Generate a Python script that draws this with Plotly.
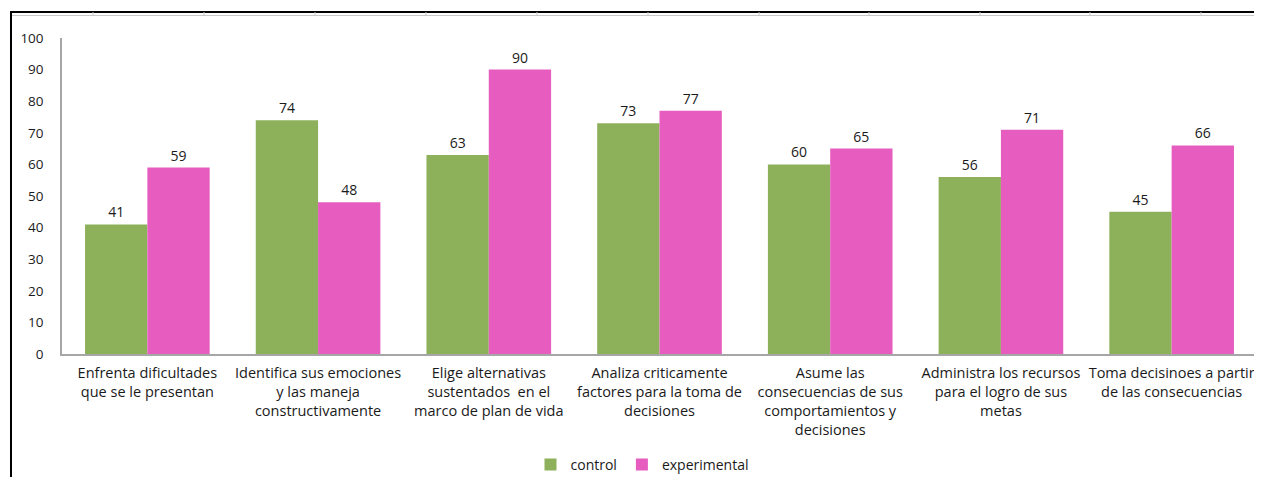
import plotly.graph_objects as go

categories = [
    "Enfrenta dificultades<br>que se le presentan",
    "Identifica sus emociones<br>y las maneja<br>constructivamente",
    "Elige alternativas<br>sustentados  en el<br>marco de plan de vida",
    "Analiza criticamente<br>factores para la toma de<br>decisiones",
    "Asume las<br>consecuencias de sus<br>comportamientos y<br>decisiones",
    "Administra los recursos<br>para el logro de sus<br>metas",
    "Toma decisinoes a partir<br>de las consecuencias",
]
control = [41, 74, 63, 73, 60, 56, 45]
experimental = [59, 48, 90, 77, 65, 71, 66]
y_ticks = [0, 10, 20, 30, 40, 50, 60, 70, 80, 90, 100]

GREEN = "#8DB15A"
PINK = "#E65CBF"
FONT = "Open Sans"
TXT = "#1a1a1a"

# page offset (default body margin) and figure size
OFF = 8
FW, FH = 1262 - OFF, 477 - OFF
# plot-area geometry in page pixels
L, R, T, B = 62, 1257, 38, 354
W, H = R - L, B - T
def px(x):
    return (x - L) / W
def py(y):
    return (B - y) / H

fig = go.Figure()
fig.add_trace(go.Bar(
    name="control", x=categories, y=control, marker_color=GREEN,
    marker_line_width=0, text=control, textposition="outside",
    textfont=dict(size=14, color=TXT, family=FONT), cliponaxis=False,
))
fig.add_trace(go.Bar(
    name="experimental", x=categories, y=experimental, marker_color=PINK,
    marker_line_width=0, text=experimental, textposition="outside",
    textfont=dict(size=14, color=TXT, family=FONT), cliponaxis=False,
))

shapes = [
    dict(type="line", xref="paper", yref="paper", x0=px(10), x1=px(1262), y0=py(12), y1=py(12),
         line=dict(color="#000000", width=2)),
    dict(type="line", xref="paper", yref="paper", x0=px(12), x1=px(1262), y0=py(15.5), y1=py(15.5),
         line=dict(color="#c8c8c8", width=1)),
    dict(type="line", xref="paper", yref="paper", x0=px(11), x1=px(11), y0=py(480), y1=py(12),
         line=dict(color="#000000", width=2)),
]
for xp in [93, 204, 315, 426, 537, 648, 759, 869, 980, 1090, 1201]:
    shapes.append(dict(type="line", xref="paper", yref="paper", x0=px(xp), x1=px(xp),
                       y0=py(12), y1=py(16), line=dict(color="#c8c8c8", width=1)))

fig.update_layout(
    width=FW, height=FH,
    margin=dict(l=L - OFF, r=FW - (R - OFF), t=T - OFF, b=FH - (B - OFF), pad=0, autoexpand=False),
    paper_bgcolor="white", plot_bgcolor="white",
    barmode="group", bargap=0.27, bargroupgap=0,
    font=dict(family=FONT, size=13, color=TXT),
    showlegend=True,
    legend=dict(orientation="h", x=px(642), xanchor="center", y=py(465), yanchor="middle",
                font=dict(size=14, family=FONT, color=TXT), traceorder="normal",
                itemwidth=30),
    xaxis=dict(showline=True, linecolor="#a6a6a6", linewidth=1.5, ticks="", showgrid=False,
               tickfont=dict(size=14.5, family=FONT, color=TXT), automargin=False,
               ticklabelstandoff=5),
    yaxis=dict(range=[0, 100], tickvals=y_ticks, showline=True, linecolor="#a6a6a6", linewidth=1.5,
               ticks="", showgrid=False, zeroline=False,
               tickfont=dict(size=13.5, family=FONT, color=TXT),
               ticklabelstandoff=14, automargin=False),
    shapes=shapes,
)
fig.write_html("out.html")
